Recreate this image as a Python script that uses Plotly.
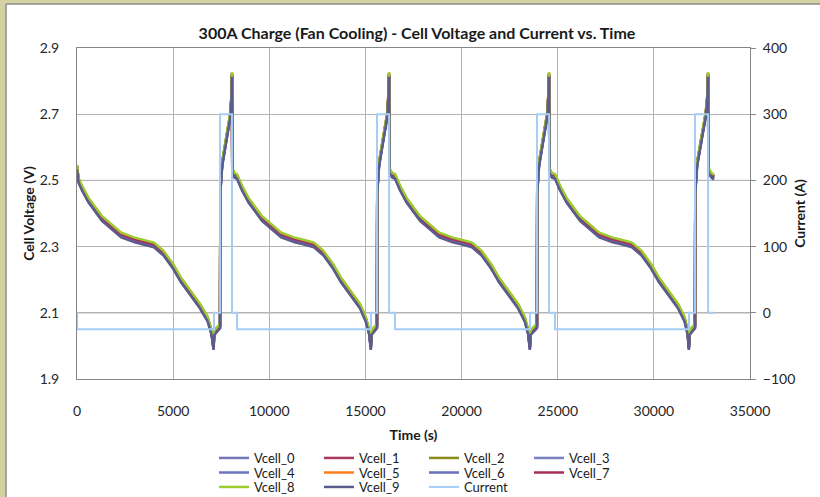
import plotly.graph_objects as go

# ---- data ----
time_s = [0, 80, 250, 600, 1300, 2300, 3000, 3500, 4000, 4500, 5000, 5400, 5900, 6400, 6800, 7000, 7100,
          7140, 7440, 7455, 7550, 7700, 7850, 7980, 8030, 8060, 8075, 8200, 8320,
          8570, 8920, 9620, 10620, 11320, 11820, 12320, 12820, 13320, 13720, 14220, 14720, 15020, 15200, 15280,
          15320, 15600, 15615, 15710, 15860, 16010, 16140, 16190, 16230, 16245, 16400, 16540,
          16790, 17140, 17840, 18840, 19540, 20040, 20540, 21040, 21540, 21940, 22440, 22940, 23290, 23470, 23550,
          23590, 23920, 23935, 24030, 24180, 24330, 24460, 24510, 24550, 24565, 24700, 24860,
          25110, 25460, 26160, 27160, 27860, 28360, 28860, 29360, 29860, 30260, 30760, 31260, 31600, 31760, 31820,
          31860, 32140, 32155, 32250, 32400, 32550, 32700, 32780, 32820, 32835, 33000, 33130]

v_base = [2.54, 2.50, 2.478, 2.44, 2.385, 2.335, 2.32, 2.313, 2.305, 2.28, 2.24, 2.20, 2.16, 2.12, 2.08, 2.04, 1.995,
          2.04, 2.06, 2.47, 2.55, 2.60, 2.645, 2.70, 2.75, 2.82, 2.53, 2.515, 2.512,
          2.478, 2.44, 2.385, 2.335, 2.32, 2.313, 2.305, 2.28, 2.24, 2.20, 2.16, 2.12, 2.08, 2.04, 1.995,
          2.04, 2.06, 2.47, 2.55, 2.60, 2.645, 2.70, 2.75, 2.82, 2.53, 2.515, 2.512,
          2.478, 2.44, 2.385, 2.335, 2.32, 2.313, 2.305, 2.28, 2.24, 2.20, 2.16, 2.12, 2.08, 2.04, 1.995,
          2.04, 2.06, 2.47, 2.55, 2.60, 2.645, 2.70, 2.75, 2.82, 2.53, 2.515, 2.512,
          2.478, 2.44, 2.385, 2.335, 2.32, 2.313, 2.305, 2.28, 2.24, 2.20, 2.16, 2.12, 2.08, 2.04, 1.995,
          2.04, 2.06, 2.47, 2.55, 2.60, 2.645, 2.70, 2.75, 2.82, 2.53, 2.515, 2.51]

cell_names = ["Vcell_0", "Vcell_1", "Vcell_2", "Vcell_3", "Vcell_4",
              "Vcell_5", "Vcell_6", "Vcell_7", "Vcell_8", "Vcell_9"]
cell_offsets = [0.000, 0.003, 0.005, -0.002, -0.005, 0.001, -0.003, 0.002, 0.007, -0.007]
cell_colors = ["#7478b8", "#a8385e", "#8b8b1a", "#7a80c0", "#6c74c0",
               "#ff7c1c", "#6870b8", "#a82c5c", "#9ccc2c", "#5c5c8c"]

current_t = [0, 10, 7125, 7440, 8060, 8320, 15290, 15600, 16230, 16540,
             23560, 23920, 24550, 24860, 31830, 32140, 32820, 33130]
current_a = [0, -25, 0, 300, 0, -25, 0, 300, 0, -25,
             0, 300, 0, -25, 0, 300, 0, 0]

FONT = "Lato, 'Liberation Sans', Arial, sans-serif"

# plot area in pixels
L, R, T, B = 77, 750, 48, 379
W, H = 820, 497
def px(x):
    return (x - L) / (R - L)
def py(y):
    return (B - y) / (B - T)
def cx(x):
    return x / W
def cy(y):
    return 1 - y / H

fig = go.Figure()

legend_of = ["legend", "legend", "legend", "legend",
             "legend2", "legend2", "legend2", "legend2",
             "legend3", "legend3"]
for i, name in enumerate(cell_names):
    fig.add_trace(go.Scatter(
        x=time_s, y=[v + cell_offsets[i] for v in v_base],
        mode="lines", name=name,
        line=dict(color=cell_colors[i], width=2.5),
        legend=legend_of[i], yaxis="y"))

fig.add_trace(go.Scatter(
    x=current_t, y=current_a, mode="lines", name="Current",
    line=dict(color="#a6cdf5", width=2, shape="hv"),
    legend="legend3", yaxis="y2"))

OLIVE = "#d2d2a2"
shapes = [
    dict(type="rect", xref="paper", yref="paper", x0=px(-10), x1=px(6), y0=py(-10), y1=py(H + 10),
         fillcolor=OLIVE, line=dict(width=0), layer="below"),
    dict(type="rect", xref="paper", yref="paper", x0=px(-10), x1=px(W + 10), y0=py(-10), y1=py(4),
         fillcolor=OLIVE, line=dict(width=0), layer="below"),
    dict(type="line", xref="paper", yref="paper", x0=px(6), x1=px(6), y0=py(4), y1=py(H + 10),
         line=dict(color="#8c8c8c", width=1.5), layer="below"),
    dict(type="line", xref="paper", yref="paper", x0=px(6), x1=px(W + 10), y0=py(4), y1=py(4),
         line=dict(color="#8c8c8c", width=1.5), layer="below"),
    dict(type="line", xref="paper", yref="y", x0=0, x1=1, y0=2.1, y1=2.1,
         line=dict(color="#868686", width=1), layer="between"),
    dict(type="line", xref="paper", yref="y", x0=0, x1=1, y0=2.5, y1=2.5,
         line=dict(color="#868686", width=1), layer="between"),
]

leg_common = dict(orientation="h", xanchor="left", yanchor="middle",
                  xref="container", yref="container",
                  font=dict(family=FONT, size=13, color="#1a1a1a"),
                  bgcolor="rgba(0,0,0,0)", entrywidth=60, entrywidthmode="pixels",
                  itemwidth=30, tracegroupgap=0, borderwidth=0)

fig.update_layout(
    width=W, height=H,
    margin=dict(l=L, r=W - R, t=T, b=H - B, autoexpand=False),
    paper_bgcolor="white", plot_bgcolor="white",
    font=dict(family=FONT, size=13, color="#262626"),
    shapes=shapes,
    title=dict(text="<b>300A Charge (Fan Cooling) - Cell Voltage and Current vs. Time</b>",
               xref="container", yref="container",
               x=cx(417), xanchor="center", y=cy(33), yanchor="middle",
               font=dict(family=FONT, size=16, color="#1a1a1a")),
    xaxis=dict(range=[0, 35000], dtick=5000, tick0=0, tickformat="d", showgrid=True,
               gridcolor="#b4b4b4", automargin=False,
               gridwidth=1, showline=True, linecolor="#868686", linewidth=1, mirror=True,
               ticks="", zeroline=False, ticklabelstandoff=19,
               tickfont=dict(family=FONT, size=14, color="#262626"),
               title=dict(text="<b>Time (s)</b>", standoff=21,
                          font=dict(family=FONT, size=14, color="#1a1a1a"))),
    yaxis=dict(range=[1.9, 2.9], dtick=0.2, tick0=1.9, tickformat=".1f", showgrid=True,
               gridcolor="#b4b4b4", showline=True, linecolor="#868686", linewidth=1,
               automargin=False,
               ticks="", zeroline=False, ticklabelstandoff=14,
               tickfont=dict(family=FONT, size=14, color="#262626"),
               title=dict(text="<b>Cell Voltage (V)</b>", standoff=1,
                          font=dict(family=FONT, size=14, color="#1a1a1a"))),
    yaxis2=dict(range=[-100, 400], dtick=100, tick0=-100, overlaying="y", side="right",
                showgrid=False, showline=True, linecolor="#868686", linewidth=1,
                automargin=False,
                ticks="outside", ticklen=5, tickcolor="#868686", zeroline=False,
                ticklabelstandoff=4,
                tickfont=dict(family=FONT, size=14, color="#262626"),
                title=dict(text="<b>Current (A)</b>", standoff=0,
                           font=dict(family=FONT, size=14, color="#1a1a1a"))),
    legend=dict(x=cx(214), y=cy(458), **leg_common),
    legend2=dict(x=cx(214), y=cy(472.5), **leg_common),
    legend3=dict(x=cx(214), y=cy(487), **leg_common),
)

fig.write_html("out.html", config={"displayModeBar": False},
               post_script="document.body.style.margin='0px';document.body.style.padding='0px';")
